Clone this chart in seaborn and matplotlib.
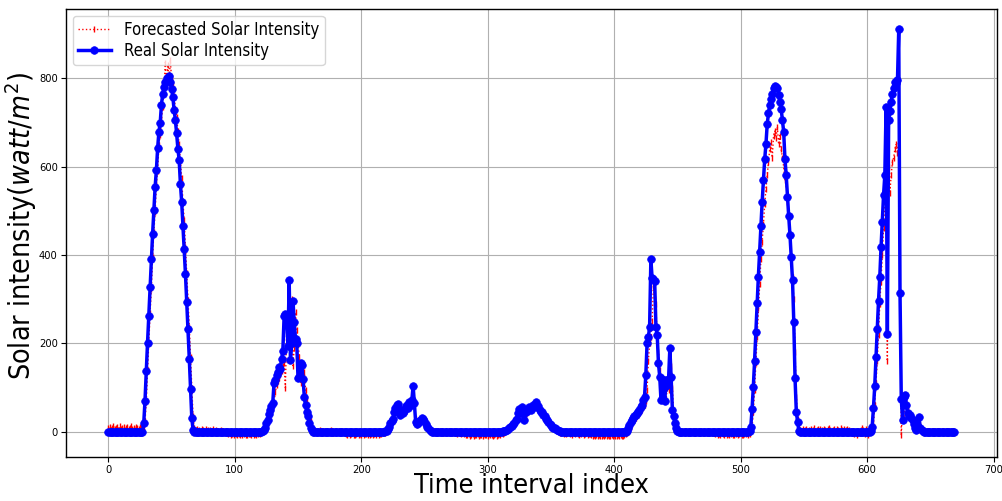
import numpy as np
import matplotlib
matplotlib.use("Agg")
import matplotlib.pyplot as plt
import seaborn as sns

# Measured solar intensity (W/m^2), one value per time interval, segment by segment
real_intensity = [
    # night 0-27
    0, 0, 0, 0, 0, 0, 0, 0, 0, 0, 0, 0, 0, 0, 0, 0, 0, 0, 0, 0, 0, 0, 0, 0, 0, 0, 0, 0,
    # day 1: 28-67
    20, 71, 138, 202, 263, 327, 390, 447, 501, 554, 592, 642, 679, 698, 740, 764, 780, 792, 800, 795,
    805, 790, 775, 758, 728, 705, 675, 640, 615, 560, 520, 466, 414, 356, 294, 232, 166, 96, 31, 5,
    # night 68-121
    0, 0, 0, 0, 0, 0, 0, 0, 0, 0, 0, 0, 0, 0, 0, 0, 0, 0, 0, 0, 0, 0, 0, 0, 0, 0, 0,
    0, 0, 0, 0, 0, 0, 0, 0, 0, 0, 0, 0, 0, 0, 0, 0, 0, 0, 0, 0, 0, 0, 0, 0, 0, 0, 0,
    # day 2: 122-161
    2, 5, 9, 20, 28, 40, 50, 58, 65, 110, 118, 128, 135, 146, 142, 165, 184, 262, 267, 255,
    195, 343, 163, 200, 297, 249, 210, 200, 121, 125, 155, 151, 120, 78, 60, 45, 35, 20, 10, 4,
    # night 162-218
    0, 0, 0, 0, 0, 0, 0, 0, 0, 0, 0, 0, 0, 0, 0, 0, 0, 0, 0, 0, 0, 0, 0, 0, 0, 0, 0, 0, 0,
    0, 0, 0, 0, 0, 0, 0, 0, 0, 0, 0, 0, 0, 0, 0, 0, 0, 0, 0, 0, 0, 0, 0, 0, 0, 0, 0, 0,
    # day 3: 219-255
    1, 3, 6, 12, 20, 25, 30, 45, 55, 60, 63, 45, 38, 50, 42, 48, 58, 62, 55, 68,
    60, 72, 104, 65, 22, 18, 20, 25, 28, 31, 30, 24, 18, 12, 8, 4, 2,
    # night 256-311
    0, 0, 0, 0, 0, 0, 0, 0, 0, 0, 0, 0, 0, 0, 0, 0, 0, 0, 0, 0, 0, 0, 0, 0, 0, 0, 0, 0,
    0, 0, 0, 0, 0, 0, 0, 0, 0, 0, 0, 0, 0, 0, 0, 0, 0, 0, 0, 0, 0, 0, 0, 0, 0, 0, 0, 0,
    # day 4: 312-357
    1, 2, 3, 5, 7, 9, 11, 14, 17, 21, 26, 30, 42, 51, 48, 57, 40, 28, 45, 48,
    52, 57, 50, 55, 62, 60, 68, 56, 58, 50, 46, 44, 38, 35, 30, 26, 23, 19, 15, 12,
    10, 8, 6, 4, 3, 1,
    # night 358-409
    0, 0, 0, 0, 0, 0, 0, 0, 0, 0, 0, 0, 0, 0, 0, 0, 0, 0, 0, 0, 0, 0, 0, 0, 0, 0,
    0, 0, 0, 0, 0, 0, 0, 0, 0, 0, 0, 0, 0, 0, 0, 0, 0, 0, 0, 0, 0, 0, 0, 0, 0, 0,
    # day 5: 410-450
    2, 8, 16, 22, 27, 31, 35, 38, 42, 46, 50, 56, 61, 72, 80, 129, 200, 214, 237, 390,
    347, 345, 342, 238, 220, 155, 125, 72, 120, 100, 70, 118, 105, 120, 189, 125, 50, 35, 20, 8,
    2,
    # night 451-506
    0, 0, 0, 0, 0, 0, 0, 0, 0, 0, 0, 0, 0, 0, 0, 0, 0, 0, 0, 0, 0, 0, 0, 0, 0, 0, 0, 0,
    0, 0, 0, 0, 0, 0, 0, 0, 0, 0, 0, 0, 0, 0, 0, 0, 0, 0, 0, 0, 0, 0, 0, 0, 0, 0, 0, 0,
    # day 6: 507-546
    3, 11, 51, 101, 160, 225, 291, 351, 407, 466, 520, 569, 616, 651, 696, 720, 738, 752, 765, 777,
    782, 780, 777, 762, 746, 731, 705, 679, 618, 581, 532, 487, 445, 396, 343, 249, 121, 46, 23, 3,
    # night 547-602
    0, 0, 0, 0, 0, 0, 0, 0, 0, 0, 0, 0, 0, 0, 0, 0, 0, 0, 0, 0, 0, 0, 0, 0, 0, 0, 0, 0,
    0, 0, 0, 0, 0, 0, 0, 0, 0, 0, 0, 0, 0, 0, 0, 0, 0, 0, 0, 0, 0, 0, 0, 0, 0, 0, 0, 0,
    # day 7: 603-644
    3, 12, 54, 103, 169, 232, 296, 350, 417, 475, 536, 581, 734, 221, 705, 726, 746, 765, 777, 792,
    788, 795, 910, 315, 75, 28, 80, 84, 60, 43, 35, 39, 31, 28, 17, 8, 5, 12, 33, 10,
    5, 2,
    # night 645-669
    0, 0, 0, 0, 0, 0, 0, 0, 0, 0, 0, 0, 0, 0, 0, 0, 0, 0, 0, 0, 0, 0, 0, 0, 0,
]

# Model forecast for the same intervals
forecast_intensity = [
    # night 0-27
    8, 12, 5, 10, 14, 6, 9, 11, 4, 13, 7, 10, 12, 5, 8, 11, 6, 9, 13, 7, 10, 5, 12, 8, 6, 11, 9, 4,
    # day 1: 28-67
    6, 24, 68, 140, 200, 268, 322, 395, 452, 498, 560, 590, 648, 672, 705, 735, 770, 835, 785, 830,
    790, 840, 800, 785, 760, 730, 712, 680, 650, 610, 575, 520, 478, 418, 360, 298, 238, 170, 100, 35,
    # night 68-121
    9, 4, 6, 3, 5, 2, 7, 4, 3, 6, 2, 5, 4, 1, 3, 6, 2, 4, 1, 3, 2, 5, 1, 2, 0, 1,
    -3, -5, -2, -6, -4, -7, -3, -5, -8, -4, -6, -2, -7, -5, -3, -6, -8, -4, -5, -7, -3, -6, -4, -8,
    -5, -2, -4, -1,
    # day 2: 122-161
    1, 3, 6, 10, 18, 27, 38, 48, 56, 64, 90, 105, 115, 122, 130, 138, 150, 155, 100, 230,
    250, 240, 180, 300, 150, 190, 270, 230, 205, 170, 110, 118, 140, 135, 95, 70, 50, 38, 25, 12,
    # night 162-218
    5, 2, 3, -1, 2, 4, 1, -2, 3, 2, 0, 3, -1, 2, 4, 1, -2, 1, 3, 0, 2, -1, 1, 3, 0, -2,
    -4, -6, -3, -7, -5, -2, -6, -8, -4, -3, -7, -5, -6, -2, -8, -4, -5, -7, -3, -6,
    -4, -8, -5, -3, -7, -2, -6, -4, -5, -3, -1,
    # day 3: 219-255
    -2, 1, 4, 8, 15, 22, 27, 38, 50, 58, 62, 50, 40, 45, 46, 44, 55, 60, 57, 62,
    63, 66, 95, 70, 30, 16, 22, 24, 27, 30, 31, 27, 20, 14, 9, 5, 2,
    # night 256-311
    1, -1, 2, 0, -2, 3, 1, -1, 2, -3, 0, 1, -2, 2, -1, 0, -3, 1, -2, 0, -4, -1, -3, -5, -2, -4, -3,
    -6, -8, -5, -9, -7, -4, -10, -6, -8, -5, -9, -7, -6, -10, -4, -8, -7, -9, -5, -6,
    -8, -10, -7, -5, -9, -6, -4, -7, -3,
    # day 4: 312-357
    -5, -3, -1, 2, 4, 6, 9, 11, 14, 18, 22, 27, 31, 40, 50, 47, 55, 42, 32, 42,
    47, 50, 55, 50, 56, 60, 62, 65, 55, 56, 50, 45, 42, 36, 33, 28, 24, 20, 16, 13,
    10, 8, 5, 3, 1, -2,
    # night 358-409
    -3, -1, -4, -2, -5, -3, -1, -4, -2, -6, -3, -5, -2, -4, -6, -3, -5, -2, -7, -4, -3, -6, -5, -4, -7,
    -9, -6, -9, -8, -10, -7, -10, -9, -6, -10, -8, -9, -7, -9, -10, -8, -10, -6, -9, -9,
    -7, -10, -8, -10, -9, -7, -5,
    # day 5: 410-450
    -3, 0, 5, 12, 18, 24, 28, 32, 36, 39, 43, 47, 52, 57, 62, 70, 95, 160, 200, 215,
    250, 330, 300, 290, 200, 180, 140, 110, 90, 100, 85, 75, 100, 95, 110, 150, 100, 45, 30, 15,
    5,
    # night 451-506
    2, 1, 3, 0, -1, 2, 1, -2, 0, 1, -1, 2, 0, -2, 1, 0, -1, -3, 1, -2, 0, -1, -2, 1, -3, -1, -2, -1, -3,
    -5, -3, -6, -4, -7, -2, -5, -8, -3, -6, -4, -7, -5, -3, -8, -6, -4, -2, -7, -5,
    -3, -6, -8, -4, -5, -2, -6,
    # day 6: 507-546
    -4, 2, 10, 45, 95, 155, 215, 280, 335, 390, 430, 470, 515, 550, 580, 610, 640, 655, 620, 670,
    680, 665, 690, 650, 670, 640, 620, 600, 570, 560, 520, 480, 430, 395, 350, 300, 180, 80, 30, 10,
    # night 547-602
    5, 3, 6, 2, 4, 7, 3, 5, 2, 6, 4, 8, 3, 5, 7, 2, 6, 4, 3, 7, 5, 2, 6, 8, 4, 3, 5, 7, 2, 6,
    4, 3, 8, 5, 2, 6, 4, 7, 3, 5, 1, -3, 2, -5, 0, -6, 3, -2, 5, 8, 4, -4, 6, 3, -8, 2,
    # day 7: 603-644
    6, 4, 15, 60, 110, 160, 220, 290, 340, 400, 460, 520, 560, 160, 600, 540, 580, 610, 620, 640,
    650, 630, 660, 310, -8, 60, 30, 70, 75, 50, 38, 30, 34, 25, 20, 12, 6, 4, 25, 15,
    5, 2,
    # night 645-669
    1, 0, 2, 1, 3, 0, 2, 1, 0, 2, 1, 3, 1, 0, 2, 1, 0, 1, 2, 0, 1, 2, 0, 1, 0,
]

assert len(real_intensity) == len(forecast_intensity) == 670
time_index = np.arange(len(real_intensity))

plt.rcParams["font.family"] = ["DejaVu Sans"]
plt.rcParams["font.stretch"] = "condensed"

fig = plt.figure(figsize=(10.02, 5.01), dpi=100)
ax = fig.add_axes([0.0659, 0.0884, 0.9288, 0.8936])

sns.lineplot(x=time_index, y=forecast_intensity, ax=ax, color="red", linestyle=":",
             linewidth=1.0, marker="|", markersize=5, markeredgewidth=1.0,
             markeredgecolor="red", label="Forecasted Solar Intensity")
sns.lineplot(x=time_index, y=real_intensity, ax=ax, color="blue", linewidth=2.5,
             marker="o", markersize=5.5, markeredgewidth=0.5, markeredgecolor="blue",
             label="Real Solar Intensity")

ax.margins(x=0.05, y=0.05)
ax.set_xticks(np.arange(0, 701, 100))
ax.set_yticks(np.arange(0, 801, 200))
ax.tick_params(labelsize=8, direction="out", pad=2.5)
ax.grid(True, color="#b0b0b0", linewidth=0.8)
ax.set_axisbelow(True)
for spine in ax.spines.values():
    spine.set_color("black")
    spine.set_linewidth(1.0)

ax.set_xlabel("Time interval index", fontsize=19.5)
ax.xaxis.set_label_coords(0.5, -0.037)
ax.set_ylabel("Solar intensity($watt/m^2$)", fontsize=20.5)
ax.yaxis.set_label_coords(-0.029, 0.515)
ax.legend(loc="upper left", fontsize=12, framealpha=0.8,
          borderpad=0.3, labelspacing=0.2, handlelength=2.0,
          borderaxespad=0.4)

fig.savefig("out.png", dpi=100)
